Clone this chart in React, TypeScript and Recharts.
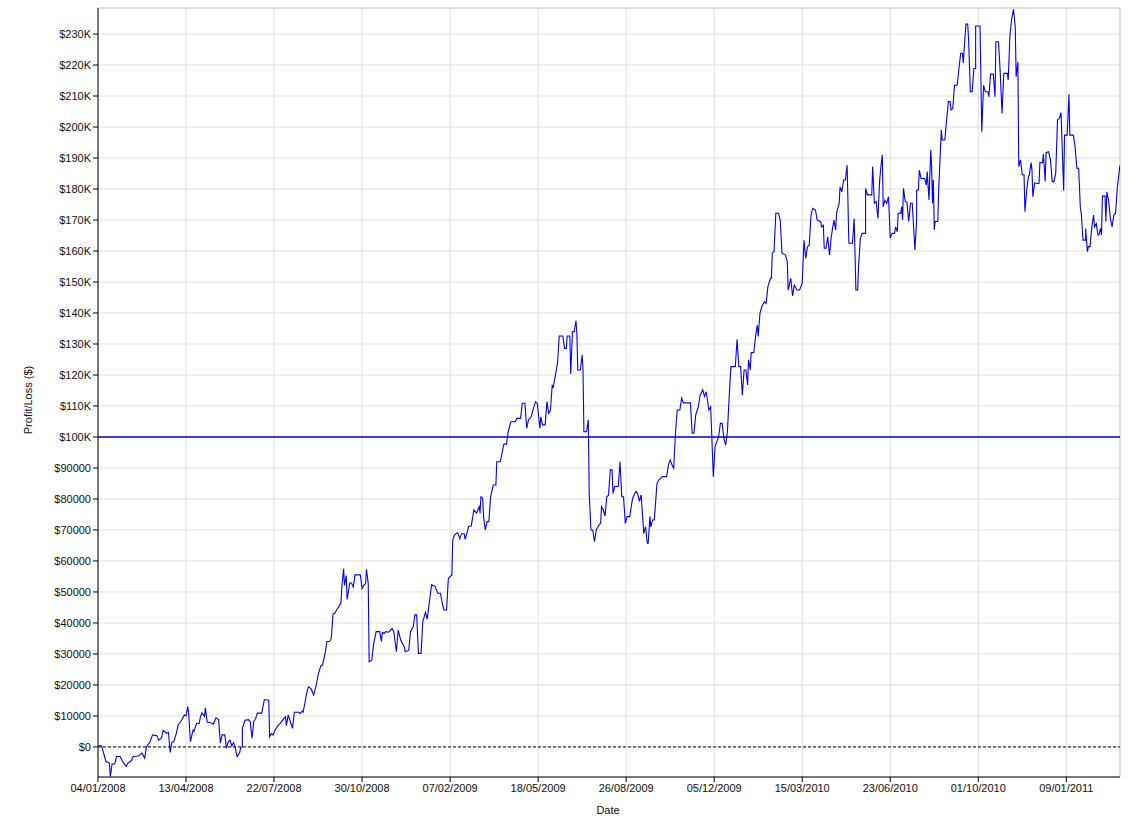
import {
  CartesianGrid,
  Line,
  LineChart,
  ReferenceLine,
  XAxis,
  YAxis,
} from 'recharts';

// [days since 04/01/2008, profit/loss in $K]
const pl2008: [number, number][] = [
  [0, 0.4], [4, 0.4], [9, -4.7], [13, -5.2], [14, -9.6], [16, -5.5], [19, -5.5], [21, -3.1], [25, -3.1],
  [28, -4.7], [32, -6.3], [34, -5.2], [38, -4.4], [40, -3.1], [46, -2.9], [50, -2.0], [53, -3.6], [55, 0],
  [59, 1.6], [62, 3.9], [67, 3.6], [69, 2.2], [72, 2.8], [74, 5.3], [78, 4.4], [80, 4.7], [82, -1.8],
  [84, 1.6], [86, 1.6], [89, 4.4], [91, 7.1], [95, 8.6], [98, 10.3], [100, 10.0], [102, 13.0], [103, 10.8],
  [105, 1.7], [108, 5.5], [109, 5.0], [112, 7.7], [115, 7.5], [116, 9.3], [118, 11.0], [121, 9.9],
  [122, 12.6], [124, 8.0], [129, 7.7], [131, 7.3], [134, 9.4], [137, 8.8], [139, 1.3], [141, 3.9],
  [144, 3.9], [146, -0.4], [148, 1.7], [150, 2.2], [152, 0.3], [154, 1.4], [156, -0.4], [158, -3.1],
  [161, -1.8], [162, -0.4], [164, 0], [164, 6.0], [167, 8.6], [171, 8.8], [173, 8.1], [175, 2.8],
  [177, 8.3], [179, 9.1], [181, 10.9], [186, 10.9], [189, 15.3], [194, 15.1], [195, 3.3], [197, 4.3],
  [199, 3.8], [201, 5.4], [204, 6.7], [207, 7.6], [211, 9.1], [213, 9.7], [214, 6.9], [216, 10.3],
  [218, 8.6], [221, 6.0], [223, 11.2], [228, 11.2], [230, 10.8], [232, 11.6], [233, 11.2], [235, 14.1],
  [237, 17.3], [239, 19.4], [242, 18.8], [245, 16.8], [248, 20.0], [250, 23.2], [253, 26.1], [255, 26.4],
  [258, 30.2], [260, 34.0], [263, 34.0], [265, 35.0], [267, 42.9], [269, 43.1], [271, 44.2], [274, 45.5],
  [276, 46.4], [277, 51.7], [279, 57.5], [280, 52.1], [282, 55.3], [283, 47.6], [286, 52.9], [288, 52.9],
  [290, 51.6], [292, 55.5], [298, 55.5], [300, 51.1], [302, 52.2], [304, 52.7], [305, 57.3], [307, 52.7],
  [308, 27.5], [311, 28.0], [313, 33.0], [316, 37.2], [320, 37.2], [322, 34.0], [323, 37.0], [325, 36.6],
  [327, 37.2], [330, 37.0], [334, 38.2], [336, 37.2], [339, 30.7], [341, 37.7], [344, 34.4], [346, 33.3],
  [348, 32.3], [349, 30.7], [353, 31.2], [355, 37.2], [358, 38.7], [360, 42.6], [362, 42.6],
];

const pl2009: [number, number][] = [
  [364, 30.2], [367, 30.2], [369, 40.4], [372, 43.4], [374, 41.2], [376, 45.8], [379, 52.3], [383, 51.8],
  [386, 49.6], [389, 49.6], [391, 46.4], [393, 44.2], [396, 44.2], [398, 54.4], [402, 55.5], [403, 66.8],
  [405, 68.4], [408, 69.1], [409, 68.8], [411, 67.2], [413, 68.8], [416, 68.8], [417, 67.0], [419, 68.8],
  [421, 71.1], [424, 71.3], [425, 73.0], [427, 76.5], [430, 75.4], [433, 77.5], [434, 75.4], [435, 80.7],
  [437, 80.2], [438, 74.2], [440, 70.0], [442, 72.7], [444, 72.7], [446, 80.7], [449, 84.5], [452, 84.5],
  [453, 92.0], [457, 92.0], [459, 94.7], [461, 97.7], [464, 97.7], [466, 101.7], [469, 104.9], [474, 104.9],
  [476, 106.0], [480, 106.0], [482, 110.9], [485, 110.9], [487, 102.8], [489, 105.5], [492, 106.5],
  [494, 108.6], [497, 111.4], [499, 110.9], [502, 102.8], [503, 106.5], [505, 103.9], [508, 103.9],
  [510, 111.4], [512, 107.6], [514, 108.6], [516, 116.8], [517, 115.8], [520, 120.5], [522, 123.8],
  [524, 132.6], [528, 132.6], [530, 128.6], [532, 128.6], [533, 132.6], [536, 132.6], [537, 120.3],
  [539, 134.0], [541, 134.0], [543, 137.5], [544, 133.4], [545, 121.6], [548, 121.6], [550, 126.5],
  [551, 121.6], [552, 101.7], [555, 101.7], [557, 105.5], [558, 81.8], [560, 70.0], [562, 70.0],
  [564, 66.2], [566, 70.0], [569, 71.6], [571, 72.2], [572, 77.5], [574, 76.5], [576, 74.5], [578, 80.7],
  [580, 81.2], [582, 89.4], [584, 89.4], [585, 81.8], [587, 84.0], [591, 84.0], [593, 92.0], [595, 80.7],
  [597, 80.7], [599, 72.1], [601, 74.3], [604, 74.3], [607, 79.7], [608, 80.7], [611, 82.4], [613, 81.8],
  [615, 79.2], [617, 81.3], [620, 68.9], [622, 71.0], [624, 65.7], [625, 65.7], [627, 74.3], [628, 71.0],
  [630, 73.2], [632, 73.2], [635, 85.0], [637, 86.1], [641, 87.2], [643, 87.2], [646, 87.2], [648, 91.0],
  [650, 92.6], [652, 91.0], [654, 89.9], [656, 101.2], [658, 108.7], [661, 108.7], [663, 112.5],
  [665, 111.0], [673, 111.0], [675, 101.2], [677, 101.2], [679, 107.1], [682, 109.7], [684, 113.5],
  [687, 115.2], [689, 113.1], [691, 114.6], [694, 108.7], [696, 109.7], [697, 102.3], [699, 87.2],
  [701, 96.9], [705, 100.0], [707, 104.4], [709, 104.4], [711, 99.6], [713, 97.4], [715, 101.7],
  [717, 113.0], [719, 122.7], [724, 122.7], [726, 131.5],
];

const pl2010: [number, number][] = [
  [728, 122.7], [730, 122.7], [732, 113.5], [734, 121.6], [736, 121.6], [738, 116.8], [739, 124.9],
  [741, 121.6], [742, 127.2], [745, 127.2], [747, 132.4], [749, 136.1], [750, 132.4], [752, 139.9],
  [754, 142.0], [757, 143.6], [759, 143.1], [761, 148.5], [764, 151.2], [765, 151.2], [766, 159.3],
  [768, 159.8], [770, 172.2], [773, 172.2], [775, 170.0], [777, 159.3], [781, 158.7], [783, 156.6],
  [784, 147.4], [787, 151.2], [789, 145.5], [791, 149.0], [794, 147.4], [797, 147.4], [800, 149.6],
  [802, 163.5], [804, 157.6], [806, 161.4], [808, 161.9], [810, 171.6], [812, 173.8], [815, 173.3],
  [817, 170.0], [821, 169.5], [822, 167.8], [824, 168.3], [825, 160.9], [827, 160.9], [829, 164.6],
  [831, 158.7], [833, 164.6], [836, 170.0], [838, 166.8], [839, 172.2], [842, 175.4], [843, 180.7],
  [845, 179.1], [847, 182.9], [849, 182.9], [851, 187.7], [853, 162.5], [857, 162.5], [858, 166.2],
  [859, 170.5], [861, 147.4], [863, 147.4], [864, 155.0], [866, 164.1], [868, 165.7], [872, 165.7],
  [872, 180.2], [874, 178.1], [879, 178.1], [880, 187.2], [882, 175.4], [884, 176.0], [886, 170.5],
  [888, 182.9], [889, 186.1], [891, 191.0], [892, 174.3], [894, 176.4], [896, 175.4], [898, 177.5],
  [900, 164.1], [902, 165.7], [905, 165.7], [906, 167.8], [908, 166.2], [909, 172.2], [912, 172.2],
  [913, 174.3], [914, 170.0], [915, 180.2], [917, 176.0], [919, 175.7], [921, 169.5], [923, 175.4],
  [925, 175.4], [928, 160.3], [930, 170.0], [930, 179.7], [932, 179.7], [933, 186.1], [935, 183.4],
  [939, 183.4], [941, 181.3], [942, 185.6], [944, 176.5], [946, 192.6], [947, 187.2], [948, 175.4],
  [949, 182.9], [950, 166.8], [951, 169.5], [954, 169.5], [955, 179.7], [958, 199.0], [959, 195.8],
  [962, 195.8], [963, 199.0], [966, 208.2], [968, 208.2], [969, 205.5], [971, 206.0], [973, 213.5],
  [976, 213.5], [980, 223.8], [982, 223.8], [983, 220.6], [984, 225.4], [986, 233.2], [988, 233.2],
  [989, 228.1], [991, 211.4], [993, 211.4], [995, 218.9], [997, 218.9], [997, 232.6], [1002, 232.6],
  [1004, 198.5], [1006, 213.5], [1008, 211.4], [1011, 211.4], [1012, 209.8], [1014, 217.1], [1017, 217.1],
  [1019, 209.8], [1020, 227.5], [1023, 227.5], [1025, 217.3], [1027, 204.4], [1029, 217.3], [1033, 217.3],
  [1034, 215.2], [1036, 229.7], [1038, 235.0], [1040, 238.0], [1042, 232.4], [1043, 216.2], [1045, 221.0],
  [1046, 187.2], [1048, 189.4], [1050, 184.6], [1052, 184.6], [1053, 172.7], [1055, 179.6], [1057, 184.0],
  [1058, 184.6], [1060, 188.5], [1061, 186.1], [1062, 177.5], [1064, 182.0], [1067, 181.8], [1069, 181.8],
  [1070, 188.5], [1073, 188.5], [1074, 191.3], [1076, 182.4], [1077, 191.7], [1080, 192.0], [1082, 189.4],
  [1084, 182.4], [1086, 182.4], [1088, 185.1], [1090, 202.3], [1092, 202.8],
];

const pl2011: [number, number][] = [
  [1094, 204.6], [1097, 179.5], [1098, 197.4], [1101, 197.4], [1103, 210.6], [1104, 197.4], [1108, 197.4],
  [1110, 193.6], [1112, 186.7], [1114, 186.7], [1116, 173.8], [1117, 172.2], [1119, 163.5], [1122, 163.5],
  [1122, 167.3], [1124, 159.8], [1125, 161.4], [1127, 161.4], [1129, 167.8], [1131, 171.6], [1132, 167.8],
  [1134, 168.8], [1136, 165.2], [1137, 165.2], [1139, 167.3], [1140, 165.2], [1141, 177.7], [1144, 177.7],
  [1145, 169.5], [1146, 179.1], [1148, 176.5], [1150, 170.7], [1152, 167.8], [1154, 171.6], [1156, 172.2],
  [1158, 180.7], [1159, 182.9], [1161, 187.7],
];

const xTicks = [0, 100, 200, 300, 400, 500, 600, 700, 800, 900, 1000, 1100];
const xTickLabels = [
  '04/01/2008', '13/04/2008', '22/07/2008', '30/10/2008', '07/02/2009', '18/05/2009',
  '26/08/2009', '05/12/2009', '15/03/2010', '23/06/2010', '01/10/2010', '09/01/2011',
];
const yTicks = [
  0, 10000, 20000, 30000, 40000, 50000, 60000, 70000, 80000, 90000, 100000, 110000,
  120000, 130000, 140000, 150000, 160000, 170000, 180000, 190000, 200000, 210000, 220000, 230000,
];
const targetLine = 100000;

const X_MAX = 1161;
const Y_MIN = -9700;
const Y_MAX = 238400;

const chartData = [...pl2008, ...pl2009, ...pl2010, ...pl2011].map(([day, k]) => ({
  day,
  pnl: Math.round(k * 1000),
}));

function formatDay(d: number) {
  const i = xTicks.indexOf(d);
  return i >= 0 ? xTickLabels[i] : '';
}

function formatMoney(v: number) {
  return v >= 100000 ? `$${v / 1000}K` : `$${v}`;
}

const font = '"Liberation Sans", Arial, sans-serif';
const tickStyle = { fill: '#111', fontSize: 11, fontFamily: font };

export default function App() {
  return (
    <div style={{ position: 'absolute', left: 0, top: 0, width: 1138, height: 819, background: '#fff' }}>
      <LineChart
        width={1138}
        height={819}
        data={chartData}
        margin={{ top: 8, right: 18, bottom: 0, left: 0 }}
      >
        <CartesianGrid stroke="#e2e2e2" />
        <XAxis
          dataKey="day"
          type="number"
          domain={[0, X_MAX]}
          ticks={xTicks}
          tickFormatter={formatDay}
          tick={tickStyle}
          height={42}
          tickSize={5}
          axisLine={{ stroke: '#000' }}
          tickLine={{ stroke: '#000' }}
          allowDataOverflow
        />
        <YAxis
          type="number"
          domain={[Y_MIN, Y_MAX]}
          ticks={yTicks}
          tickFormatter={formatMoney}
          tick={tickStyle}
          width={98}
          tickSize={5}
          axisLine={{ stroke: '#000' }}
          tickLine={{ stroke: '#000' }}
          allowDataOverflow
        />
        <ReferenceLine y={Y_MAX} stroke="#cfcfcf" />
        <ReferenceLine x={X_MAX} stroke="#cfcfcf" />
        <ReferenceLine y={0} stroke="#000" strokeDasharray="3 2" />
        <ReferenceLine y={targetLine} stroke="#0000d0" strokeWidth={1.3} />
        <Line
          type="linear"
          dataKey="pnl"
          stroke="#0000ff"
          strokeWidth={1.1}
          dot={false}
          activeDot={false}
          isAnimationActive={false}
        />
      </LineChart>
      <div
        style={{
          position: 'absolute',
          left: 28,
          top: 400,
          transform: 'translate(-50%, -50%) rotate(-90deg)',
          fontFamily: font,
          fontSize: 11,
          color: '#111',
          whiteSpace: 'nowrap',
        }}
      >
        Profit/Loss ($)
      </div>
      <div
        style={{
          position: 'absolute',
          left: 608,
          top: 810,
          transform: 'translate(-50%, -50%)',
          fontFamily: font,
          fontSize: 11,
          color: '#111',
        }}
      >
        Date
      </div>
    </div>
  );
}
